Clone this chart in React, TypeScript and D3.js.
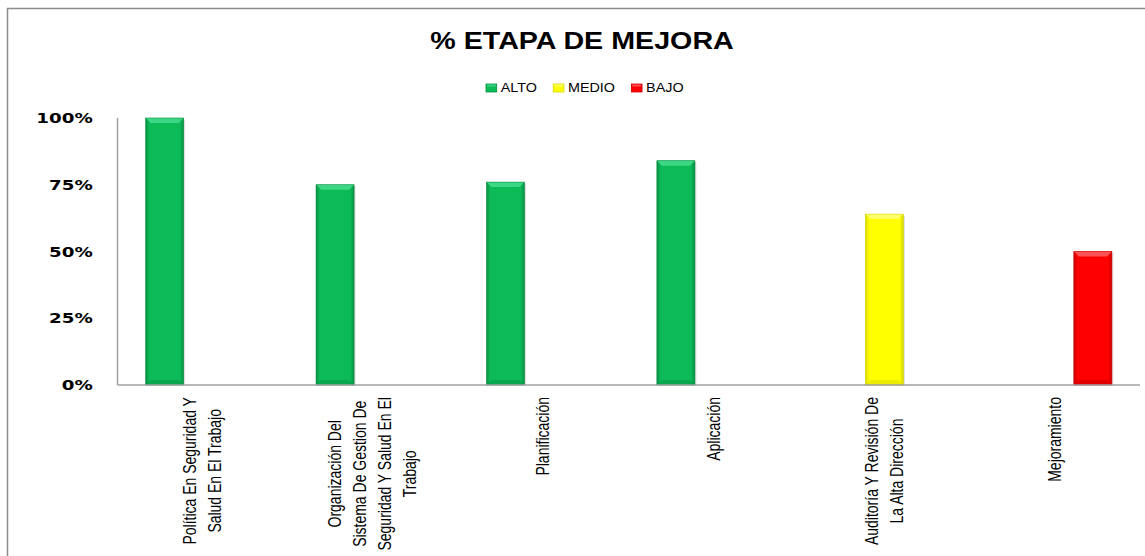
import React, { useEffect, useRef } from "react";
import * as d3 from "d3";

const categories = [
  "Política En Seguridad Y Salud En El Trabajo",
  "Organización Del Sistema De Gestion De Seguridad Y Salud En El Trabajo",
  "Planificación",
  "Aplicación",
  "Auditoría Y Revisión De La Alta Dirección",
  "Mejoramiento",
];
const categoryLines = [
  ["Política En Seguridad Y", "Salud En El Trabajo"],
  ["Organización Del", "Sistema De Gestion De", "Seguridad Y Salud En El", "Trabajo"],
  ["Planificación"],
  ["Aplicación"],
  ["Auditoría Y Revisión De", "La Alta Dirección"],
  ["Mejoramiento"],
];
const seriesNames = ["ALTO", "MEDIO", "BAJO"];
const alto = [1.0, 0.75, 0.76, 0.84, null, null];
const medio = [null, null, null, null, 0.64, null];
const bajo = [null, null, null, null, null, 0.5];
const yTicks = [0, 0.25, 0.5, 0.75, 1];
const yTickLabels = ["0%", "25%", "50%", "75%", "100%"];
const titleText = "% ETAPA DE MEJORA";

const palette: Record<string, { mid: string; edge: string; light: string; dark: string }> = {
  ALTO: { mid: "#0cba58", edge: "#078f42", light: "#45dc8c", dark: "#06863d" },
  MEDIO: { mid: "#ffff00", edge: "#d6d600", light: "#ffff7a", dark: "#c9c900" },
  BAJO: { mid: "#ff0000", edge: "#c80000", light: "#ff6262", dark: "#b00000" },
};

export default function App() {
  const ref = useRef<SVGSVGElement | null>(null);

  useEffect(() => {
    const svg = d3.select(ref.current);
    svg.selectAll("*").remove();
    const K = 1.28;

    const defs = svg.append("defs");
    seriesNames.forEach((s) => {
      const c = palette[s];
      const g = defs.append("linearGradient").attr("id", "grad-" + s).attr("x1", 0).attr("x2", 1).attr("y1", 0).attr("y2", 0);
      g.append("stop").attr("offset", "0%").attr("stop-color", c.edge);
      g.append("stop").attr("offset", "10%").attr("stop-color", c.mid);
      g.append("stop").attr("offset", "90%").attr("stop-color", c.mid);
      g.append("stop").attr("offset", "100%").attr("stop-color", c.edge);
    });

    // chart frame
    svg.append("rect").attr("x", 7.5).attr("y", 8.5).attr("width", 1200).attr("height", 600)
      .attr("fill", "#ffffff").attr("stroke", "#8c8c8c").attr("stroke-width", 1.5);

    const x0 = d3.scaleBand<string>().domain(categories).range([117.5, 1140]).paddingInner(0.33).paddingOuter(0.165);
    const x1 = d3.scaleBand<string>().domain(seriesNames).range([0, x0.bandwidth()]);
    const y = d3.scaleLinear().domain([0, 1]).range([385, 118]);

    const seriesValues: Record<string, (number | null)[]> = { ALTO: alto, MEDIO: medio, BAJO: bajo };

    const drawBar = (g: any, s: string, x: number, w: number, top: number, bottom: number) => {
      const c = palette[s];
      const b = 5;
      g.append("rect").attr("x", x + 1.5).attr("y", top + 1.5).attr("width", w).attr("height", bottom - top - 1.5)
        .attr("fill", "#000").attr("opacity", 0.12);
      g.append("rect").attr("x", x).attr("y", top).attr("width", w).attr("height", bottom - top)
        .attr("fill", `url(#grad-${s})`);
      g.append("polygon")
        .attr("points", [[x, top], [x + w, top], [x + w - b, top + b], [x + b, top + b]].map((p) => p.join(",")).join(" "))
        .attr("fill", c.light).attr("opacity", 0.85);
      g.append("polygon")
        .attr("points", [[x, bottom], [x + w, bottom], [x + w - b, bottom - b], [x + b, bottom - b]].map((p) => p.join(",")).join(" "))
        .attr("fill", c.dark).attr("opacity", 0.35);
      g.append("rect").attr("x", x).attr("y", top).attr("width", w).attr("height", bottom - top)
        .attr("fill", "none").attr("stroke", c.edge).attr("stroke-width", 0.6);
    };

    const barsG = svg.append("g");
    seriesNames.forEach((s) => {
      seriesValues[s].forEach((v, i) => {
        if (v == null) return;
        const cat = categories[i];
        const x = (x0(cat) as number) + (x1(s) as number);
        drawBar(barsG, s, x, x1.bandwidth(), y(v), y(0));
      });
    });

    // axes
    svg.append("line").attr("x1", 117.5).attr("x2", 117.5).attr("y1", y(1)).attr("y2", y(0))
      .attr("stroke", "#a0a0a0").attr("stroke-width", 1.5);
    svg.append("line").attr("x1", 117.5).attr("x2", 1140).attr("y1", y(0)).attr("y2", y(0))
      .attr("stroke", "#a0a0a0").attr("stroke-width", 1.5);

    // y tick labels
    yTicks.forEach((t, i) => {
      svg.append("text")
        .attr("transform", `translate(92.7,${y(t)}) scale(1.26,1)`)
        .attr("text-anchor", "end").attr("dy", "0.36em")
        .attr("font-family", "DejaVu Sans").attr("font-weight", "bold").attr("font-size", 14.5)
        .attr("fill", "#000").text(yTickLabels[i]);
    });

    // title
    svg.append("text")
      .attr("transform", `translate(582,49.3) scale(1.17,1)`)
      .attr("text-anchor", "middle")
      .attr("font-family", "Liberation Sans").attr("font-weight", "bold").attr("font-size", 24.5)
      .attr("fill", "#000").text(titleText);

    // legend
    let lx = 486;
    seriesNames.forEach((s) => {
      const c = palette[s];
      svg.append("rect").attr("x", lx).attr("y", 84).attr("width", 10.7).attr("height", 8)
        .attr("fill", c.mid).attr("stroke", c.edge).attr("stroke-width", 0.8);
      svg.append("rect").attr("x", lx + 1).attr("y", 84.5).attr("width", 8.7).attr("height", 2)
        .attr("fill", c.light).attr("opacity", 0.8);
      const t = svg.append("text")
        .attr("transform", `translate(${lx + 14.7},92) scale(1.15,1)`)
        .attr("font-family", "Liberation Sans").attr("font-size", 12.5).attr("fill", "#000").text(s);
      const len = (t.node() as SVGTextElement).getComputedTextLength() * 1.15;
      lx = lx + 14.7 + len + 16.3;
    });

    // category labels (rotated, wrapped)
    const lineGap = 25;
    const topY = 397;
    categories.forEach((cat, i) => {
      const lines = categoryLines[i];
      const cx = (x0(cat) as number) + x0.bandwidth() / 2;
      const g = svg.append("g");
      const texts = lines.map((ln) =>
        g.append("text").attr("font-family", "Liberation Sans").attr("font-size", 14).attr("fill", "#000")
          .attr("text-anchor", "middle").attr("dy", "0.32em").text(ln)
      );
      const maxLen = d3.max(texts, (t) => (t.node() as SVGTextElement).getComputedTextLength()) || 0;
      const cy = topY + maxLen / 2;
      texts.forEach((t, j) => {
        const lxp = cx + (j - (lines.length - 1) / 2) * lineGap;
        t.attr("transform", `translate(${lxp},${cy}) rotate(-90) scale(1,${K})`);
      });
    });
  }, []);

  return (
    <svg
      ref={ref}
      width={1145}
      height={556}
      style={{ position: "absolute", left: 0, top: 0, background: "#fff" }}
    />
  );
}
